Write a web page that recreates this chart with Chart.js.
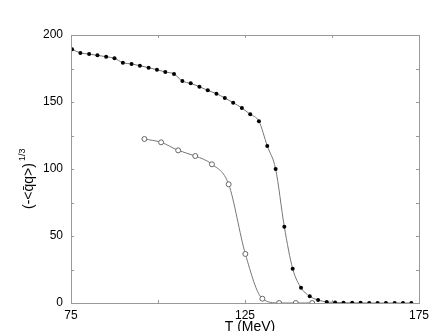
<!DOCTYPE html>
<html><head><meta charset="utf-8">
<script src="https://cdn.jsdelivr.net/npm/chart.js@4/dist/chart.umd.min.js"></script>
<style>html,body{margin:0;padding:0;background:#fff}#w{width:436px;height:331px}</style>
</head><body><div id="w"><canvas id="c"></canvas></div>
<script>
const tFilled = [75.3,77.7,80.2,82.6,85.1,87.5,89.9,92.4,94.8,97.3,99.7,102.1,104.6,107.0,109.4,111.9,114.3,116.8,119.2,121.6,124.1,126.5,129.0,131.4,133.8,136.3,138.7,141.1,143.6,146.0,148.5,150.9,153.3,155.8,158.2,160.7,163.1,165.5,168.0,170.4,172.8];
const condFilled = [189.3,186.6,185.8,184.8,183.8,182.6,179.3,178.4,177.1,175.6,174.1,172.4,170.9,165.7,163.9,161.4,158.7,156.2,153.0,149.5,145.5,140.8,135.6,117.2,100.0,56.9,25.6,11.4,5.0,2.2,0.8,0.4,0.2,0.1,0.1,0,0,0,0,0,0];
const tOpen = [96.1,100.9,105.8,110.7,115.5,120.3,125.1,130.0,134.8,139.6,144.3];
const condOpen = [122.4,119.9,113.9,109.7,103.5,88.6,36.6,3.2,0,0,0];
const xTicks = [75,125,175];
const yTicks = [0,50,100,150,200];
const xTitle = 'T (MeV)';
const yTitleMain = '(-<q\u0304q>)';
const yTitleSup = '1/3';

const FONT = '"Liberation Sans", Arial, sans-serif';
const pts = (xs, ys) => xs.map((x, i) => ({x, y: ys[i]}));

const framePlugin = {
  id: 'frame',
  afterDraw(chart) {
    const {ctx, chartArea: a, scales: {x, y}} = chart;
    ctx.save();
    ctx.strokeStyle = '#999';
    ctx.lineWidth = 1;
    ctx.strokeRect(a.left + 0.5, a.top + 0.5, a.right - a.left, a.bottom - a.top);
    ctx.beginPath();
    for (let v = 75; v <= 175; v += 25) {
      const px = Math.round(x.getPixelForValue(v)) + 0.5;
      ctx.moveTo(px, a.bottom); ctx.lineTo(px, a.bottom - 3);
      ctx.moveTo(px, a.top); ctx.lineTo(px, a.top + 3);
    }
    for (let v = 0; v <= 200; v += 25) {
      const py = Math.round(y.getPixelForValue(v)) + 0.5;
      ctx.moveTo(a.left, py); ctx.lineTo(a.left + 3, py);
      ctx.moveTo(a.right, py); ctx.lineTo(a.right - 3, py);
    }
    ctx.stroke();
    ctx.fillStyle = '#000';
    ctx.font = '14px ' + FONT;
    ctx.textAlign = 'center';
    ctx.textBaseline = 'alphabetic';
    ctx.fillText(xTitle, 250, 331);
    ctx.translate(33, 186);
    ctx.rotate(-Math.PI / 2);
    ctx.textAlign = 'center';
    ctx.fillText(yTitleMain, 0, 0);
    const w = ctx.measureText(yTitleMain).width;
    ctx.font = '9px ' + FONT;
    ctx.textAlign = 'left';
    ctx.fillText(yTitleSup, w / 2 + 2, -8);
    ctx.restore();
  }
};

new Chart(document.getElementById('c'), {
  type: 'scatter',
  data: {
    datasets: [
      {
        data: pts(tFilled, condFilled),
        showLine: true,
        borderColor: '#777',
        borderWidth: 1,
        cubicInterpolationMode: 'monotone',
        pointRadius: 2,
        pointBackgroundColor: '#000',
        pointBorderColor: '#000',
        pointBorderWidth: 0
      },
      {
        data: pts(tOpen, condOpen),
        showLine: true,
        borderColor: '#777',
        borderWidth: 1,
        cubicInterpolationMode: 'monotone',
        pointRadius: 2.5,
        pointBackgroundColor: '#fff',
        pointBorderColor: '#666',
        pointBorderWidth: 1
      }
    ]
  },
  options: {
    responsive: true,
    maintainAspectRatio: false,
    animation: false,
    layout: {padding: {top: 35, right: 17, left: 0, bottom: 0}},
    plugins: {legend: {display: false}, tooltip: {enabled: false}},
    scales: {
      x: {
        type: 'linear', min: 75, max: 175,
        afterBuildTicks: s => { s.ticks = xTicks.map(v => ({value: v})); },
        afterFit: s => { s.height = 28; },
        grid: {display: false, drawTicks: false},
        border: {display: false},
        ticks: {padding: 5, color: '#000', font: {family: FONT, size: 12}, maxRotation: 0}
      },
      y: {
        type: 'linear', min: 0, max: 200,
        afterBuildTicks: s => { s.ticks = yTicks.map(v => ({value: v})); },
        afterFit: s => { s.width = 71; },
        grid: {display: false, drawTicks: false},
        border: {display: false},
        ticks: {padding: 8, color: '#000', font: {family: FONT, size: 12}}
      }
    }
  },
  plugins: [framePlugin]
});
</script>
</body></html>
